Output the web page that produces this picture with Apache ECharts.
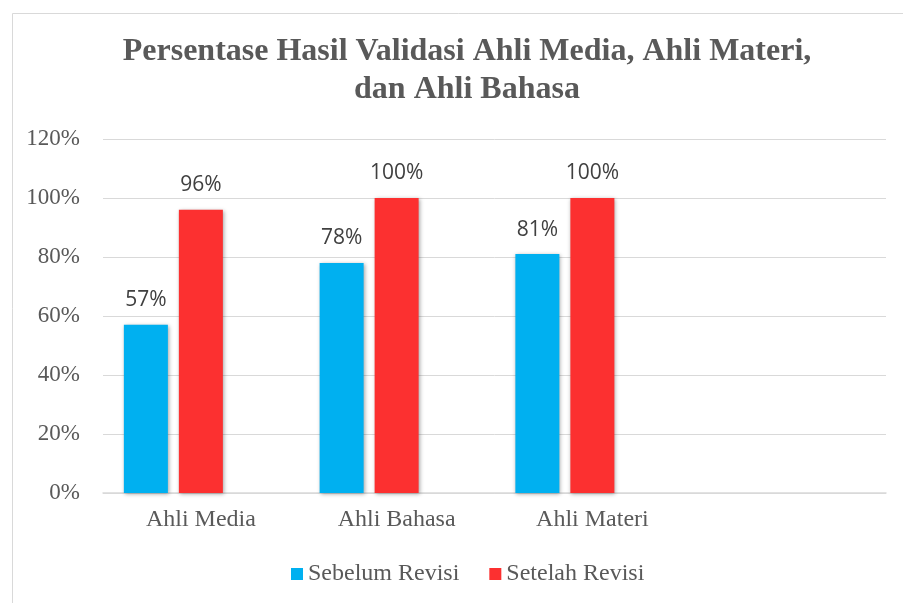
<!DOCTYPE html>
<html lang="id">
<head>
    <meta charset="UTF-8">
    <script src="https://cdn.jsdelivr.net/npm/echarts@6/dist/echarts.min.js"></script>
    <title>Persentase Hasil Validasi</title>
    <style>
        html, body { margin: 0; padding: 0; background: #fff; }
    </style>
</head>
<body>
<div id="main" style="width: 903px;height:603px;"></div>
<script type="text/javascript">
    // data dari gambar
    var categories = ['Ahli Media', 'Ahli Bahasa', 'Ahli Materi', ''];
    var sebelumRevisi = [57, 78, 81];
    var setelahRevisi = [96, 100, 100];
    var yTicks = [0, 20, 40, 60, 80, 100, 120];

    var serif = '"Liberation Serif", "Times New Roman", serif';
    var barShadow = {shadowBlur: 4, shadowColor: 'rgba(0,0,0,0.35)', shadowOffsetX: 1, shadowOffsetY: 1};
    var dataLabel = {
        show: true, position: 'top', distance: 14, formatter: '{c}%',
        fontFamily: '"Open Sans", sans-serif', fontSize: 21, color: '#404040'
    };

    var myChart = echarts.init(document.getElementById('main'));
    var option = {
        animation: false,
        backgroundColor: '#fff',
        title: {
            text: 'Persentase Hasil Validasi Ahli Media, Ahli Materi,\ndan Ahli Bahasa',
            left: 462,
            top: 28,
            textAlign: 'center',
            textStyle: {
                fontFamily: serif,
                fontWeight: 'bold',
                fontSize: 32,
                lineHeight: 38,
                color: '#595959'
            }
        },
        graphic: [{
            type: 'rect',
            left: 10,
            top: 11,
            shape: {width: 1000, height: 1000},
            style: {fill: 'none', stroke: '#d9d9d9', lineWidth: 1}
        }],
        legend: {
            data: ['Sebelum Revisi', 'Setelah Revisi'],
            top: 557,
            left: 286,
            itemWidth: 12,
            itemHeight: 12,
            itemGap: 30,
            icon: 'rect',
            textStyle: {fontFamily: serif, fontSize: 24, color: '#595959'}
        },
        grid: {
            left: 103,
            right: 17,
            top: 139,
            bottom: 110
        },
        xAxis: {
            type: 'category',
            data: categories,
            axisLine: {lineStyle: {color: '#d9d9d9', width: 1.5}},
            axisTick: {show: false},
            axisLabel: {fontFamily: serif, fontSize: 24, color: '#595959', margin: 15}
        },
        yAxis: {
            type: 'value',
            min: yTicks[0],
            max: yTicks[yTicks.length - 1],
            interval: 20,
            axisLine: {show: false},
            axisTick: {show: false},
            splitLine: {lineStyle: {color: '#d9d9d9', width: 1}},
            axisLabel: {formatter: '{value}%', fontFamily: serif, fontSize: 23, color: '#595959', margin: 23}
        },
        series: [
            {
                name: 'Sebelum Revisi',
                type: 'bar',
                data: sebelumRevisi,
                barWidth: 44,
                barGap: '25%',
                itemStyle: Object.assign({color: '#00B0F0'}, barShadow),
                label: dataLabel
            },
            {
                name: 'Setelah Revisi',
                type: 'bar',
                data: setelahRevisi,
                barWidth: 44,
                barGap: '25%',
                itemStyle: Object.assign({color: '#FC3030'}, barShadow),
                label: dataLabel
            },
            {
                // seri kosong ketiga (menggeser posisi batang seperti di Excel)
                name: 'Series3',
                type: 'bar',
                data: [],
                barWidth: 44,
                barGap: '25%'
            }
        ]
    };
    myChart.setOption(option);
</script>
</body>
</html>
